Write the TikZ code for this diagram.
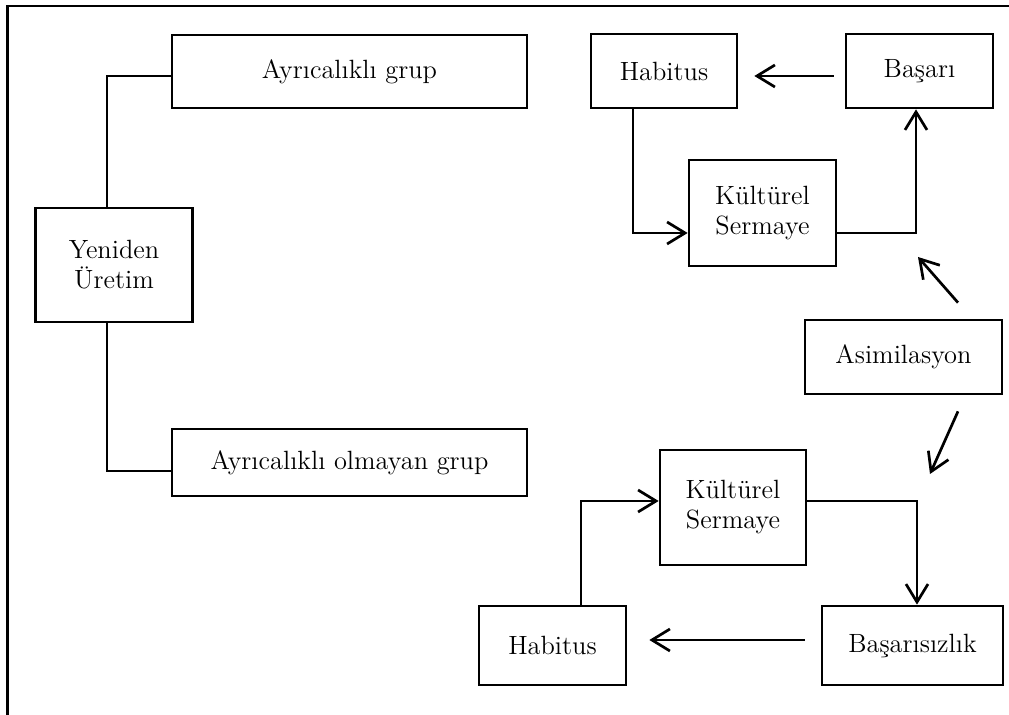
\documentclass[tikz,border=0pt]{standalone}
\usetikzlibrary{arrows.meta}

\begin{document}
\begin{tikzpicture}[x=0.5pt,y=-0.5pt,line width=1.35pt,
        >={Straight Barb[length=9pt,width=11pt]},
        kutu/.style={draw,rectangle,inner sep=0pt,align=center,font=\fontsize{13.2}{15}\selectfont}]
        \useasboundingbox (0,0) rectangle (1009,715);
        % frame
        \draw (7.5,715) -- (7.5,6) -- (1009,6);
        % left part
        \node [kutu,minimum width=177.5pt,minimum height=36.5pt] (grup) at (349.5,71.5) {Ayrıcalıklı grup};
        \node [kutu,minimum width=78.5pt,minimum height=57pt] (uretim) at (114,265) {Yeniden\\Üretim};
        \node [kutu,minimum width=177.5pt,minimum height=33.5pt] (olmayan) at (349.5,462.5) {Ayrıcalıklı olmayan grup};
        \draw ([yshift=-2.25pt]grup.west) -| ([xshift=-3.5pt]uretim.north);
        \draw ([yshift=-4.25pt]olmayan.west) -| ([xshift=-3.5pt]uretim.south);
        % upper cycle
        \node [kutu,minimum width=73pt,minimum height=37pt] (habitusA) at (664,71) {Habitus};
        \node [kutu,minimum width=73.5pt,minimum height=37pt] (basari) at (919.5,71) {Başarı};
        \node [kutu,minimum width=73.5pt,minimum height=53pt] (sermayeA) at (762.5,213) {Kültürel\\Sermaye};
        \draw [->,shorten <=5.5pt,shorten >=8pt] ([yshift=-2.5pt]basari.west) -- ([yshift=-2.5pt]habitusA.east);
        \draw [->] ([xshift=-15.5pt]habitusA.south) |- ([yshift=-10pt]sermayeA.west);
        \draw [->] ([yshift=-10pt]sermayeA.east) -| ([xshift=-1.75pt]basari.south);
        % assimilation
        \node [kutu,minimum width=98.5pt,minimum height=37pt] (asimilasyon) at (903.5,357) {Asimilasyon};
        \coordinate (yukari) at (918,257);
        \coordinate (asagi) at (930,474);
        \draw [->] ([xshift=27.25pt,yshift=8pt]asimilasyon.north) -- (yukari);
        \draw [->] ([xshift=27.25pt,yshift=-8pt]asimilasyon.south) -- (asagi);
        % lower cycle
        \node [kutu,minimum width=73pt,minimum height=57.5pt] (sermayeB) at (733,507.5) {Kültürel\\Sermaye};
        \node [kutu,minimum width=73.5pt,minimum height=39.5pt] (habitusB) at (552.5,645.5) {Habitus};
        \node [kutu,minimum width=90.5pt,minimum height=39.5pt] (basarisiz) at (912.5,645.5) {Başarısızlık};
        \draw [->] ([xshift=14.25pt]habitusB.north) |- ([yshift=3.25pt]sermayeB.west);
        \draw [->] ([yshift=3.25pt]sermayeB.east) -| ([xshift=2.25pt]basarisiz.north);
        \draw [->,shorten <=8pt,shorten >=11pt] ([yshift=2.75pt]basarisiz.west) -- ([yshift=2.75pt]habitusB.east);
\end{tikzpicture}
\end{document}
